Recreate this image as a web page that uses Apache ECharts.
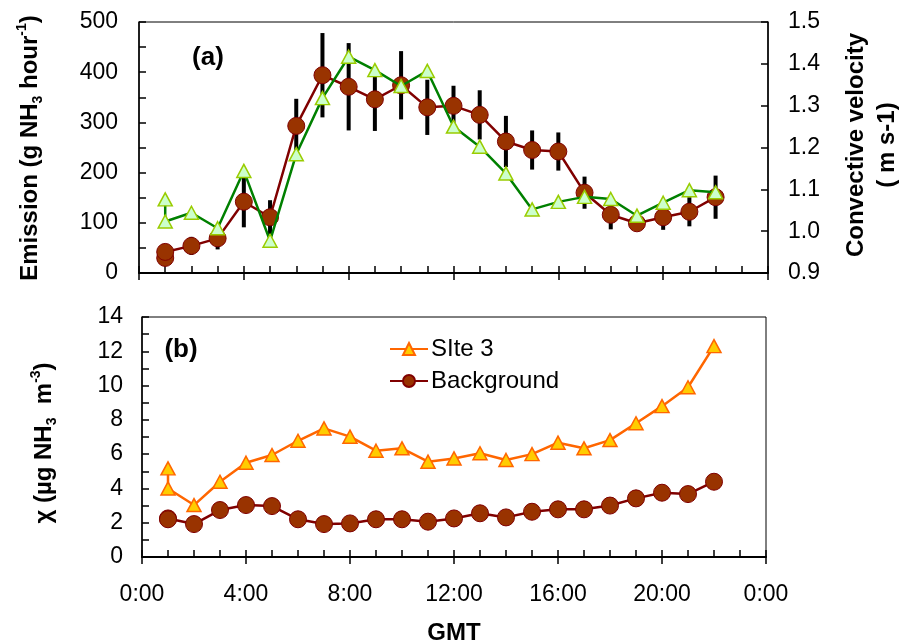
<!DOCTYPE html>
<html>
<head>
<meta charset="utf-8">
<script src="https://cdn.jsdelivr.net/npm/echarts@6/dist/echarts.min.js"></script>
<style>
  html, body { margin: 0; padding: 0; background: #fff; }
  #chart { width: 901px; height: 644px; }
</style>
</head>
<body>
<div id="chart"></div>
<script>
// Hour of day (GMT) for each sample; the first hour has two readings.
const hours = [1, 1, 2, 3, 4, 5, 6, 7, 8, 9, 10, 11, 12, 13, 14, 15, 16, 17, 18, 19, 20, 21, 22];

// Panel (a): NH3 emission (g NH3 hour-1) with its uncertainty, and convective velocity (m s-1)
const emission = [30, 42, 54, 69, 142, 111, 293, 394, 371, 346, 374, 330, 333, 315, 262, 245, 242, 160, 116, 99, 111, 122, 151];
const emissionErr = [12, 15, 18, 22, 51, 34, 54, 84, 87, 63, 68, 55, 40, 49, 51, 39, 38, 32, 29, 10, 25, 29, 43];
const convVelocity = [1.076, 1.023, 1.044, 1.007, 1.144, 0.977, 1.184, 1.318, 1.417, 1.385, 1.347, 1.383, 1.250, 1.202, 1.138, 1.052, 1.070, 1.082, 1.077, 1.037, 1.068, 1.098, 1.093];

// Panel (b): NH3 concentration (µg NH3 m-3)
const site3 = [5.17, 4.0, 3.03, 4.39, 5.5, 5.95, 6.78, 7.5, 7.02, 6.2, 6.34, 5.56, 5.75, 6.05, 5.66, 6.0, 6.67, 6.34, 6.82, 7.8, 8.8, 9.9, 12.3];
const background = [2.25, 2.2, 1.92, 2.74, 3.03, 2.97, 2.2, 1.92, 1.96, 2.2, 2.2, 2.06, 2.25, 2.55, 2.31, 2.64, 2.78, 2.78, 3.0, 3.42, 3.75, 3.67, 4.39];

// Time-axis tick labels, one every 4 hours
const timeTicks = ['0:00', '4:00', '8:00', '12:00', '16:00', '20:00', '0:00'];

const FONT = '"Liberation Sans", Arial, sans-serif';
const pairs = (ys) => hours.map((h, i) => [h, ys[i]]);

// Major ticks cross the axis: outward part on the main axis, inward part on the hourly axis
function majorHourAxis(gridIndex, showLabels) {
  return {
    type: 'value', gridIndex, position: 'bottom', min: 0, max: 24, interval: 4,
    axisLine: { show: true, onZero: false, lineStyle: { color: '#000', width: 2 } },
    axisTick: { show: true, inside: false, length: 7, lineStyle: { color: '#000', width: 1.5 } },
    axisLabel: {
      show: showLabels, margin: 26, color: '#000', fontSize: 23, fontFamily: FONT,
      formatter: (v) => timeTicks[Math.round(v / 4)]
    },
    splitLine: { show: false },
    name: showLabels ? 'GMT' : '',
    nameLocation: 'middle', nameGap: 64,
    nameTextStyle: { color: '#000', fontSize: 24, fontWeight: 'bold', fontFamily: FONT }
  };
}
function hourlyAxis(gridIndex) {
  return {
    type: 'value', gridIndex, position: 'bottom', min: 0, max: 24, interval: 1,
    axisLine: { show: false, onZero: false },
    axisTick: { show: true, inside: true, length: 7, lineStyle: { color: '#000', width: 1.5 } },
    axisLabel: { show: false },
    splitLine: { show: false }
  };
}
function valueAxis(gridIndex, position, min, max, interval, minorSplit, margin, fmt) {
  return {
    type: 'value', gridIndex, position, min, max, interval,
    axisLine: { show: true, onZero: false, lineStyle: { color: '#000', width: 1.5 } },
    axisTick: { show: true, inside: true, length: 7, lineStyle: { color: '#000', width: 1.5 } },
    minorTick: { show: minorSplit > 0, splitNumber: minorSplit || 5, length: 7, lineStyle: { color: '#000', width: 1.5 } },
    axisLabel: { margin, color: '#000', fontSize: 23, fontFamily: FONT, formatter: fmt },
    splitLine: { show: false },
    minorSplitLine: { show: false }
  };
}

const sub = { fontSize: 14, fontWeight: 'bold', fontFamily: FONT, lineHeight: 14, verticalAlign: 'bottom', color: '#000' };
const sup = { fontSize: 14, fontWeight: 'bold', fontFamily: FONT, lineHeight: 14, verticalAlign: 'top', color: '#000' };
const main = { fontSize: 24, fontWeight: 'bold', fontFamily: FONT, lineHeight: 30, verticalAlign: 'middle', color: '#000' };

const option = {
  backgroundColor: '#fff',
  animation: false,
  grid: [
    { left: 139, right: 133, top: 22, height: 251, show: true, borderColor: '#000', borderWidth: 1, backgroundColor: 'transparent', containLabel: false, outerBoundsMode: 'none' },
    { left: 142, right: 135, top: 317, height: 240, show: true, borderColor: '#000', borderWidth: 1, backgroundColor: 'transparent', containLabel: false, outerBoundsMode: 'none' }
  ],
  xAxis: [majorHourAxis(0, false), hourlyAxis(0), majorHourAxis(1, true), hourlyAxis(1)],
  yAxis: [
    valueAxis(0, 'left', 0, 500, 100, 2, 21),
    valueAxis(0, 'right', 0.9, 1.5, 0.1, 0, 20, (v) => v.toFixed(1)),
    valueAxis(1, 'left', 0, 14, 2, 2, 19)
  ],
  legend: {
    show: true, data: ['SIte 3', 'Background'], orient: 'vertical', left: 384, top: 332,
    itemWidth: 38, itemHeight: 15, itemGap: 8, selectedMode: false,
    textStyle: { color: '#000', fontSize: 24, fontFamily: FONT, padding: [0, 0, 0, -2] }
  },
  graphic: [
    {
      type: 'text', x: 30, y: 148, rotation: Math.PI / 2,
      style: {
        text: '{t|Emission (g NH}{s|3}{t| hour}{p|-1}{t|)}',
        align: 'center', verticalAlign: 'middle',
        rich: { t: main, s: sub, p: sup }
      }
    },
    {
      type: 'text', x: 872, y: 145, rotation: Math.PI / 2,
      style: {
        text: 'Convective velocity\n( m s-1)', align: 'center', verticalAlign: 'middle',
        fontSize: 24, fontWeight: 'bold', fontFamily: FONT, lineHeight: 31, fill: '#000'
      }
    },
    {
      type: 'text', x: 44, y: 443, rotation: Math.PI / 2,
      style: {
        text: '{t|χ (µg NH}{s|3}{t|  m}{p|-3}{t|)}',
        align: 'center', verticalAlign: 'middle',
        rich: { t: main, s: sub, p: sup }
      }
    },
    {
      type: 'text', x: 208, y: 58,
      style: { text: '(a)', align: 'center', verticalAlign: 'middle', fontSize: 26, fontWeight: 'bold', fontFamily: FONT, fill: '#000' }
    },
    {
      type: 'text', x: 181, y: 350,
      style: { text: '(b)', align: 'center', verticalAlign: 'middle', fontSize: 26, fontWeight: 'bold', fontFamily: FONT, fill: '#000' }
    }
  ],
  series: [
    {
      // Vertical uncertainty bars on the emission estimate
      name: 'Emission error', type: 'custom', xAxisIndex: 0, yAxisIndex: 0, z: 1, silent: true,
      data: hours.map((h, i) => [h, emission[i] - emissionErr[i], emission[i] + emissionErr[i]]),
      encode: { x: 0, y: [1, 2] },
      renderItem: (params, api) => {
        const lo = api.coord([api.value(0), api.value(1)]);
        const hi = api.coord([api.value(0), api.value(2)]);
        return { type: 'line', shape: { x1: lo[0], y1: lo[1], x2: hi[0], y2: hi[1] }, style: { stroke: '#000', lineWidth: 4 } };
      }
    },
    {
      name: 'Emission', type: 'line', xAxisIndex: 0, yAxisIndex: 0, z: 2,
      data: pairs(emission),
      symbol: 'circle', symbolSize: 17,
      lineStyle: { color: '#800000', width: 2.5 },
      itemStyle: { color: '#993300', borderColor: '#800000', borderWidth: 1 }
    },
    {
      name: 'Convective velocity', type: 'line', xAxisIndex: 0, yAxisIndex: 1, z: 3,
      data: pairs(convVelocity),
      symbol: 'triangle', symbolSize: [14, 13],
      lineStyle: { color: '#008000', width: 2.5 },
      itemStyle: { color: '#CCFFCC', borderColor: '#99CC00', borderWidth: 1.5 }
    },
    {
      name: 'SIte 3', type: 'line', xAxisIndex: 2, yAxisIndex: 2, z: 3,
      data: pairs(site3),
      symbol: 'triangle', symbolSize: [14, 13],
      lineStyle: { color: '#FF6600', width: 2.5 },
      itemStyle: { color: '#FFCC00', borderColor: '#FF6600', borderWidth: 1.5 }
    },
    {
      name: 'Background', type: 'line', xAxisIndex: 2, yAxisIndex: 2, z: 2,
      data: pairs(background),
      symbol: 'circle', symbolSize: 17,
      lineStyle: { color: '#800000', width: 2.5 },
      itemStyle: { color: '#993300', borderColor: '#800000', borderWidth: 1 }
    }
  ]
};

const chart = echarts.init(document.getElementById('chart'), null, { renderer: 'canvas' });
chart.setOption(option);
</script>
</body>
</html>
